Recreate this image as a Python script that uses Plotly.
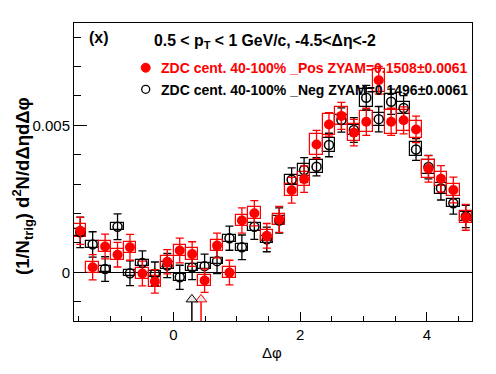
import numpy as np
import plotly.graph_objects as go

# ---------------- data ----------------
BIN_CENTERS = [-1.4726, -1.2763, -1.0799, -0.8836, -0.6872, -0.4909, -0.2945, -0.0982,
               0.0982, 0.2945, 0.4909, 0.6872, 0.8836, 1.0799, 1.2763, 1.4726,
               1.6690, 1.8653, 2.0617, 2.2580, 2.4544, 2.6507, 2.8471, 3.0434,
               3.2398, 3.4361, 3.6325, 3.8288, 4.0252, 4.2215, 4.4179, 4.6142]
BIN_WIDTH = np.pi / 16

POS_Y = [0.00141, 0.00017, 0.00088, 0.00060, 0.00085, -0.00004, -0.00031, 0.00036,
         0.00074, 0.00062, -0.00028, 0.00091, -0.00001, 0.00176, 0.00201, 0.00124,
         0.00180, 0.00279, 0.00317, 0.00435, 0.00503, 0.00532, 0.00475, 0.00512,
         0.00653, 0.00512, 0.00517, 0.00486, 0.00352, 0.00318, 0.00280, 0.00187]
POS_ERR = [0.00046, 0.00043, 0.00042, 0.00042, 0.00044, 0.00042, 0.00040, 0.00041,
           0.00042, 0.00042, 0.00040, 0.00042, 0.00042, 0.00043, 0.00043, 0.00042,
           0.00044, 0.00044, 0.00045, 0.00048, 0.00040, 0.00046, 0.00045, 0.00046,
           0.00047, 0.00046, 0.00046, 0.00045, 0.00045, 0.00045, 0.00044, 0.00044]
POS_SYS = [0.00022, 0.00018, 0.00019, 0.00018, 0.00018, 0.00019, 0.00018, 0.00018,
           0.00020, 0.00020, 0.00019, 0.00018, 0.00018, 0.00019, 0.00021, 0.00019,
           0.00019, 0.00021, 0.00023, 0.00036, 0.00036, 0.00030, 0.00028, 0.00035,
           0.00040, 0.00040, 0.00035, 0.00028, 0.00031, 0.00024, 0.00022, 0.00020]

NEG_Y = [0.00136, 0.00095, 0.00011, 0.00155, -0.00003, 0.00032, -0.00005, 0.00023,
         -0.00017, 0.00016, 0.00021, 0.00038, 0.00116, 0.00085, 0.00155, 0.00112,
         0.00176, 0.00315, 0.00348, 0.00359, 0.00433, 0.00518, 0.00484, 0.00594,
         0.00521, 0.00580, 0.00559, 0.00418, 0.00358, 0.00286, 0.00235, 0.00190]
NEG_ERR = [0.00052, 0.00043, 0.00042, 0.00044, 0.00042, 0.00041, 0.00040, 0.00041,
           0.00041, 0.00041, 0.00041, 0.00042, 0.00041, 0.00042, 0.00043, 0.00042,
           0.00043, 0.00040, 0.00042, 0.00031, 0.00040, 0.00041, 0.00042, 0.00042,
           0.00043, 0.00043, 0.00042, 0.00037, 0.00040, 0.00040, 0.00037, 0.00038]
NEG_SYS = [0.00012, 0.00011, 0.00011, 0.00012, 0.00011, 0.00011, 0.00011, 0.00011,
           0.00011, 0.00011, 0.00011, 0.00011, 0.00012, 0.00012, 0.00013, 0.00012,
           0.00014, 0.00017, 0.00019, 0.00022, 0.00023, 0.00018, 0.00017, 0.00030,
           0.00022, 0.00027, 0.00021, 0.00024, 0.00024, 0.00019, 0.00014, 0.00014]

# ZYAM minimum positions (Pos, Neg)
ZYAM_X = [0.435, 0.29]
ZYAM_COLORS = ["red", "black"]

LEGEND_TEXT = ["ZDC cent. 40-100% _Pos ZYAM=0.1508\u00b10.0061",
               "ZDC cent. 40-100% _Neg ZYAM=0.1496\u00b10.0061"]
TITLE_TEXT = "0.5 < p<sub>T</sub> < 1 GeV/c, -4.5<\u0394\u03b7<-2"
PANEL_LABEL = "(x)"
X_TITLE = "\u0394\u03c6"
Y_TITLE = "(1/N<sub>trig</sub>) d<sup>2</sup>N/d\u0394\u03b7d\u0394\u03c6"
X_TICKS = [0, 2, 4]
X_TICKTEXT = ["0", "2", "4"]
Y_TICKS = [0, 0.005]
Y_TICKTEXT = ["0", "0.005"]

XMIN, XMAX = -np.pi / 2, 3 * np.pi / 2
YMIN, YMAX = -0.001656, 0.00848

FONT = "Liberation Sans, Arial, Helvetica, sans-serif"

x = np.array(BIN_CENTERS)
pos_y, pos_sys = np.array(POS_Y), np.array(POS_SYS)
neg_y, neg_sys = np.array(NEG_Y), np.array(NEG_SYS)

fig = go.Figure()


def sys_boxes(y, sys, color):
    return go.Bar(x=x, y=2 * sys, base=y - sys, width=BIN_WIDTH,
                  marker=dict(color="rgba(0,0,0,0)", line=dict(color=color, width=1.2)),
                  showlegend=False, hoverinfo="skip")


fig.add_trace(sys_boxes(neg_y, neg_sys, "black"))
fig.add_trace(sys_boxes(pos_y, pos_sys, "red"))

fig.add_trace(go.Scatter(
    x=x, y=neg_y, mode="markers",
    marker=dict(symbol="circle-open", size=9, color="black", line=dict(width=1.5, color="black")),
    error_y=dict(type="data", array=NEG_ERR, color="black", thickness=1.3, width=4),
    showlegend=False))
fig.add_trace(go.Scatter(
    x=x, y=pos_y, mode="markers",
    marker=dict(symbol="circle", size=10, color="red"),
    error_y=dict(type="data", array=POS_ERR, color="red", thickness=1.3, width=4),
    showlegend=False))

# ZYAM arrows
for zx, zc in zip(ZYAM_X, ZYAM_COLORS):
    fig.add_trace(go.Scatter(x=[zx, zx], y=[-0.00100, YMIN], mode="lines",
                             line=dict(color=zc, width=1.5), showlegend=False, hoverinfo="skip"))
    fig.add_trace(go.Scatter(x=[zx], y=[-0.00092], mode="markers",
                             marker=dict(symbol="triangle-up", size=10, color="#e8e8e8",
                                         line=dict(color=zc, width=1)),
                             showlegend=False, hoverinfo="skip"))

# ---------------- layout ----------------
L, R, T, B = 74, 24, 23, 53
W, H = 496, 374
pw, ph = W - L - R, H - T - B


def px(xp):
    return (xp - L) / pw


def py(yp):
    return (H - B - yp) / ph


annotations = [
    dict(text="<b>%s</b>" % PANEL_LABEL, x=px(87), y=py(38), xref="paper", yref="paper",
         xanchor="left", yanchor="middle", showarrow=False, font=dict(size=16, color="black", family=FONT)),
    dict(text="<b>%s</b>" % TITLE_TEXT, x=px(152), y=py(42), xref="paper", yref="paper",
         xanchor="left", yanchor="middle", showarrow=False, font=dict(size=15.8, color="black", family=FONT)),
    dict(text="<b>%s</b>" % LEGEND_TEXT[0], x=px(159), y=py(68), xref="paper", yref="paper",
         xanchor="left", yanchor="middle", showarrow=False, font=dict(size=14, color="red", family=FONT)),
    dict(text="<b>%s</b>" % LEGEND_TEXT[1], x=px(159), y=py(89.5), xref="paper", yref="paper",
         xanchor="left", yanchor="middle", showarrow=False, font=dict(size=14, color="black", family=FONT)),
    dict(text=X_TITLE, x=px(272), y=py(352), xref="paper", yref="paper",
         xanchor="center", yanchor="middle", showarrow=False, font=dict(size=15, color="black", family=FONT)),
    dict(text="<b>%s</b>" % Y_TITLE, x=px(22), y=py(186), xref="paper", yref="paper",
         xanchor="center", yanchor="middle", textangle=-90, showarrow=False,
         font=dict(size=18.5, color="black", family=FONT)),
]

shapes = [
    dict(type="circle", xref="paper", yref="paper", xsizemode="pixel", ysizemode="pixel",
         xanchor=px(145.7), yanchor=py(67.7), x0=-4.5, x1=4.5, y0=-4.5, y1=4.5,
         fillcolor="red", line=dict(color="red", width=1)),
    dict(type="circle", xref="paper", yref="paper", xsizemode="pixel", ysizemode="pixel",
         xanchor=px(145.7), yanchor=py(89.3), x0=-4, x1=4, y0=-4, y1=4,
         fillcolor="rgba(0,0,0,0)", line=dict(color="black", width=1.3)),
]

fig.update_layout(
    width=W, height=H,
    margin=dict(l=L, r=R, t=T, b=B, pad=0),
    paper_bgcolor="white", plot_bgcolor="white",
    barmode="overlay", bargap=0,
    showlegend=False,
    font=dict(family=FONT, color="black"),
    annotations=annotations,
    shapes=shapes,
    xaxis=dict(range=[XMIN, XMAX], showgrid=False, zeroline=False,
               showline=True, linecolor="black", linewidth=1, mirror=True,
               tickmode="array", tickvals=X_TICKS, ticktext=X_TICKTEXT,
               ticks="inside", ticklen=9, tickcolor="black", tickwidth=1,
               tickfont=dict(size=15, family=FONT, color="black"),
               minor=dict(tickmode="linear", tick0=0, dtick=0.5, ticks="inside",
                          ticklen=5, tickcolor="black", tickwidth=1, showgrid=False)),
    yaxis=dict(range=[YMIN, YMAX], showgrid=False,
               zeroline=True, zerolinecolor="black", zerolinewidth=1,
               showline=True, linecolor="black", linewidth=1, mirror=True,
               tickmode="array", tickvals=Y_TICKS, ticktext=Y_TICKTEXT,
               ticks="inside", ticklen=13, tickcolor="black", tickwidth=1,
               tickfont=dict(size=15, family=FONT, color="black"),
               minor=dict(tickmode="linear", tick0=0, dtick=0.001, ticks="inside",
                          ticklen=7, tickcolor="black", tickwidth=1, showgrid=False)),
)

fig.write_html("out.html", config={"displayModeBar": False},
               post_script="document.body.style.margin='0';")
